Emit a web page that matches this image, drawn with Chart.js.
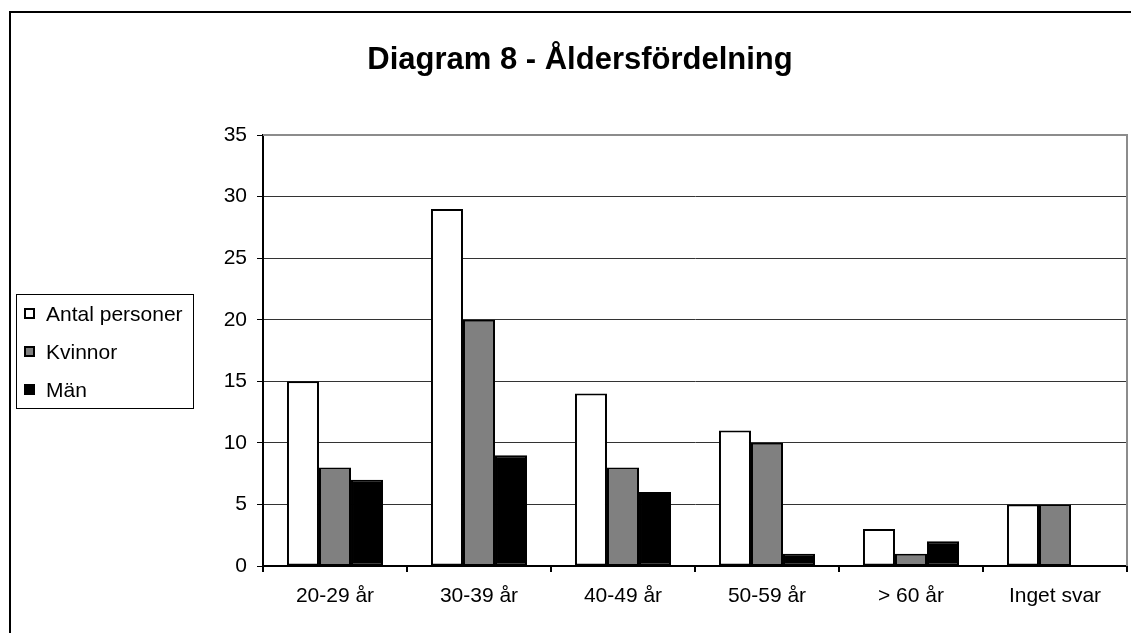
<!DOCTYPE html>
<html>
<head>
<meta charset="utf-8">
<script src="https://cdn.jsdelivr.net/npm/chart.js@4.4.1/dist/chart.umd.min.js"></script>
<style>
  html, body { margin:0; padding:0; background:#fff; width:1131px; height:633px; overflow:hidden; }
  #c { position:absolute; left:0; top:0; }
  #frame { position:absolute; left:9px; top:11px; width:2000px; height:2000px; border-left:2px solid #000; border-top:2px solid #000; pointer-events:none; }
  #title { position:absolute; left:0; top:43px; width:1160px; text-align:center; font-family:"Liberation Sans", Arial, sans-serif; font-weight:bold; font-size:31px; line-height:31px; color:#000; }
  #legend { position:absolute; left:16px; top:294px; width:176px; height:113px; border:1px solid #000; background:#fff; font-family:"Liberation Sans", Arial, sans-serif; font-size:21px; color:#000; }
  .row { position:absolute; left:0; height:21px; line-height:21px; white-space:nowrap; }
  .sw { position:absolute; left:7px; top:5px; width:11px; height:11px; box-sizing:border-box; border:2px solid #000; }
  .lt { position:absolute; left:29px; top:0; }
</style>
</head>
<body>
<canvas id="c" width="1131" height="633"></canvas>
<div id="frame"></div>
<div id="title">Diagram 8 - Åldersfördelning</div>
<div id="legend"></div>
<script>
const categories = ["20-29 år", "30-39 år", "40-49 år", "50-59 år", "> 60 år", "Inget svar"];
const seriesNames = ["Antal personer", "Kvinnor", "Män"];
const antalPersoner = [15, 29, 14, 11, 3, 5];
const kvinnor = [8, 20, 8, 10, 1, 5];
const man = [7, 9, 6, 1, 2, 0];
const yTicks = [0, 5, 10, 15, 20, 25, 30, 35];
const colors = ["#ffffff", "#808080", "#000000"];

const seriesData = [antalPersoner, kvinnor, man];

// HTML legend
const legend = document.getElementById('legend');
const rowTops = [7.5, 45.5, 83.5];
seriesNames.forEach((n, i) => {
  const r = document.createElement('div');
  r.className = 'row';
  r.style.top = rowTops[i] + 'px';
  const sw = document.createElement('div');
  sw.className = 'sw';
  sw.style.background = colors[i];
  const t = document.createElement('span');
  t.className = 'lt';
  t.textContent = n;
  r.appendChild(sw); r.appendChild(t);
  legend.appendChild(r);
});

const plotBorder = {
  id: 'plotBorder',
  afterDraw(chart) {
    const a = chart.chartArea, ctx = chart.ctx;
    ctx.save();
    ctx.strokeStyle = '#8c8c8c';
    ctx.lineWidth = 2;
    ctx.beginPath();
    ctx.moveTo(a.left, a.top);
    ctx.lineTo(a.right, a.top);
    ctx.lineTo(a.right, a.bottom);
    ctx.stroke();
    ctx.restore();
  }
};

const whiteBg = {
  id: 'whiteBg',
  beforeDraw(chart) {
    const ctx = chart.ctx;
    ctx.save();
    ctx.fillStyle = '#fff';
    ctx.fillRect(0, 0, chart.width, chart.height);
    ctx.restore();
  }
};

new Chart(document.getElementById('c'), {
  type: 'bar',
  data: {
    labels: categories,
    datasets: seriesNames.map((n, i) => ({
      label: n,
      data: seriesData[i],
      backgroundColor: colors[i],
      borderColor: '#000',
      borderWidth: 2,
      borderSkipped: false,
      categoryPercentage: 0.667,
      barPercentage: 1.0
    }))
  },
  options: {
    responsive: false,
    animation: false,
    devicePixelRatio: 1,
    layout: { padding: { top: 135, right: 4, bottom: 0, left: 0 } },
    plugins: {
      legend: { display: false },
      title: { display: false },
      tooltip: { enabled: false }
    },
    scales: {
      x: {
        offset: true,
        grid: { offset: true, drawOnChartArea: false, drawTicks: true, tickLength: 6, color: '#000', lineWidth: 2 },
        border: { display: true, color: '#000', width: 2 },
        ticks: { color: '#000', padding: 12, font: { family: '"Liberation Sans", Arial, sans-serif', size: 21 }, maxRotation: 0, autoSkip: false },
        afterFit(scale) { scale.height = 67; }
      },
      y: {
        min: 0, max: 35,
        afterBuildTicks(scale) { scale.ticks = yTicks.map(v => ({ value: v })); },
        grid: { color: '#333', lineWidth: 1, tickLength: 6, tickColor: '#000', drawTicks: true },
        border: { display: true, color: '#000', width: 2 },
        ticks: { color: '#000', padding: 10, font: { family: '"Liberation Sans", Arial, sans-serif', size: 21 } },
        afterFit(scale) { scale.width = 263; }
      }
    }
  },
  plugins: [whiteBg, plotBorder]
});
</script>
</body>
</html>
